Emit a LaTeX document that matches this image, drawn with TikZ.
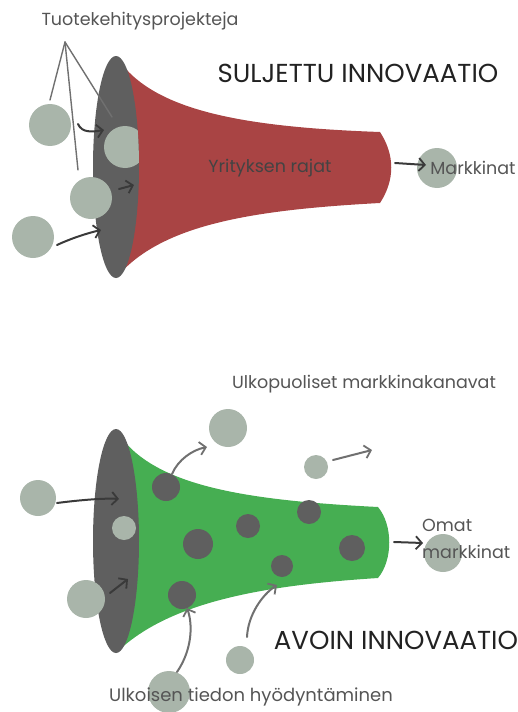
\documentclass[tikz,border=0pt]{standalone}
\usepackage{fontspec}
\setmainfont{Poppins}
\usetikzlibrary{arrows.meta}
\definecolor{funnelred}{HTML}{A94444}
\definecolor{funnelgreen}{HTML}{46AE52}
\definecolor{rimgray}{HTML}{5F5F5F}
\definecolor{bubble}{HTML}{A9B5AA}
\definecolor{txtgray}{HTML}{555555}
\definecolor{titleblk}{HTML}{222222}
\definecolor{arrdark}{HTML}{3A3A3A}
\definecolor{arrlight}{HTML}{707070}
\tikzset{
  lbub/.style={circle, fill=bubble, inner sep=0pt, minimum size=#1},
  dbub/.style={circle, fill=rimgray, inner sep=0pt, minimum size=#1},
  arr/.style={draw=arrdark, line width=2pt, line cap=round,
    -{Straight Barb[length=6pt,width=13pt,line width=1.8pt]}},
  arrl/.style={arr, draw=arrlight},
  lab/.style={text=txtgray, font=\fontsize{17.5}{20}\selectfont, inner sep=0pt},
  ttl/.style={text=titleblk, font=\fontsize{26}{28}\selectfont, inner sep=0pt},
  pointer/.style={draw=arrlight, line width=1.4pt, line cap=round},
}
\begin{document}
\begin{tikzpicture}[x=1pt,y=-1pt]
\useasboundingbox (0,0) rectangle (518,712);
% ---------- closed innovation ----------
\fill[funnelred] (116,56) .. controls (150,110) and (240,127) .. (380,132)
  .. controls (395,155) and (395,180) .. (380,203)
  .. controls (250,210) and (160,225) .. (116,278) -- cycle;
\fill[rimgray] (116,167) ellipse [x radius=23pt, y radius=111pt];
\begin{scope}
  \clip (116,167) ellipse [x radius=23pt, y radius=111pt];
  \node[lbub=42pt] (c2) at (125,147) {};
\end{scope}
\node[lbub=42pt] (c1) at (50,125) {};
\node[lbub=42pt] (c3) at (91,198) {};
\node[lbub=42pt] (c4) at (33,237) {};
\node[lbub=40pt] (cm) at (437,168) {};

\node[lab] (tuote) at (140,21) {Tuotekehitysprojekteja};
\coordinate (apex) at (65,42);
\coordinate (p1) at (50,100);
\coordinate (p2) at (78,170);
\coordinate (p3) at (112,117);
\draw[pointer] (apex) -- (p1);
\draw[pointer] (apex) -- (p2);
\draw[pointer] (apex) -- (p3);

\coordinate (a1s) at (78,124); \coordinate (a1e) at (104,130);
\coordinate (a2s) at (119,189); \coordinate (a2e) at (134,185);
\coordinate (a3s) at (57,245); \coordinate (a3e) at (101,230);
\coordinate (a4s) at (395,163); \coordinate (a4e) at (426,165);
\draw[arr] (a1s) .. controls (82,133) and (92,132) .. (a1e);
\draw[arr] (a2s) -- (a2e);
\draw[arr] (a3s) .. controls (72,238) and (88,233) .. (a3e);
\draw[arr] (a4s) -- (a4e);

\node[ttl] (sul) at (358,73) {SULJETTU INNOVAATIO};
\node[lab, text=titleblk!85] (raj) at (270,168) {Yrityksen rajat};
\node[lab] (mark) at (473,168) {Markkinat};

% ---------- open innovation ----------
\fill[funnelgreen] (116,430) .. controls (150,485) and (240,500) .. (378,507)
  .. controls (393,525) and (393,560) .. (378,578)
  .. controls (270,585) and (170,600) .. (116,653) -- cycle;
\fill[rimgray] (116,541) ellipse [x radius=23pt, y radius=112pt];
\node[lbub=24pt] (l2) at (124,528) {};
\node[dbub=28pt] (d1) at (166,487) {};
\node[dbub=30pt] (d2) at (198,544) {};
\node[dbub=28pt] (d3) at (182,595) {};
\node[dbub=24pt] (d4) at (248,526) {};
\node[dbub=24pt] (d5) at (309,512) {};
\node[dbub=26pt] (d6) at (352,548) {};
\node[dbub=22pt] (d7) at (282,566) {};
\node[lbub=36pt] (l1) at (38,498) {};
\node[lbub=38pt] (l3) at (86,599) {};
\node[lbub=38pt] (l4) at (228,428) {};
\node[lbub=24pt] (l5) at (316,467) {};
\node[lbub=38pt] (l6) at (443,553) {};
\node[lbub=28pt] (l7) at (240,660) {};
\node[lbub=42pt] (l8) at (169,692) {};

\coordinate (b1s) at (57,503); \coordinate (b1e) at (119,499);
\coordinate (b2s) at (110,593); \coordinate (b2e) at (128,579);
\coordinate (b3s) at (172,474); \coordinate (b3e) at (207,447);
\coordinate (b4s) at (333,460); \coordinate (b4e) at (372,450);
\coordinate (b5s) at (394,542); \coordinate (b5e) at (423,543);
\coordinate (b6s) at (177,672); \coordinate (b6e) at (187,608);
\coordinate (b7s) at (247,637); \coordinate (b7e) at (277,585);
\draw[arr] (b1s) .. controls (80,500) and (105,498) .. (b1e);
\draw[arr] (b2s) -- (b2e);
\draw[arrl] (b3s) .. controls (178,460) and (192,450) .. (b3e);
\draw[arrl] (b4s) -- (b4e);
\draw[arr] (b5s) -- (b5e);
\draw[arrl] (b6s) .. controls (192,650) and (193,625) .. (b6e);
\draw[arrl] (b7s) .. controls (248,615) and (262,595) .. (b7e);

\node[lab] (ulkop) at (364,384) {Ulkopuoliset markkinakanavat};
\node[lab, anchor=west] (omat) at (422,525) {Omat};
\node[lab, anchor=west] (omark) at (422,552) {markkinat};
\node[ttl] (avoin) at (396,640) {AVOIN INNOVAATIO};
\node[lab, font=\fontsize{18}{20}\selectfont] (ulkois) at (251,697) {Ulkoisen tiedon hyödyntäminen};
\end{tikzpicture}
\end{document}
